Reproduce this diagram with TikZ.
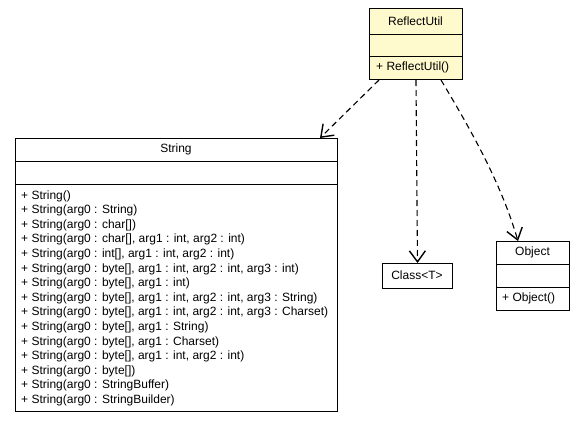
\documentclass[tikz,border=0pt]{standalone}
\usepackage{fontspec}
\setmainfont{Liberation Sans}
\usetikzlibrary{arrows.meta}
\definecolor{lemon}{HTML}{FFFACD}
\begin{document}
\begin{tikzpicture}[x=1pt,y=-1pt,
  box/.style={draw,line width=1pt,inner sep=0pt,anchor=north west},
  lbl/.style={font=\fontsize{12}{14.6}\selectfont,inner sep=0pt},
  sep/.style={line width=1pt},
  dep/.style={line width=1.1pt,dash pattern=on 6pt off 4pt,
    -{Straight Barb[length=11pt,width=16pt,line width=1.4pt]}}]
\fill[white] (0,0) rectangle (584,424);
\useasboundingbox (0,0) rectangle (584,424);
% ReflectUtil
\node[box,fill=lemon,minimum width=93pt,minimum height=71pt] (ru) at (369,8) {};
\draw[sep] (369,34) -- (462,34);
\draw[sep] (369,56) -- (462,56);
\node[lbl] (runame) at (415.5,21) {ReflectUtil};
\node[lbl,anchor=west] (rum) at (376,67.5) {+ ReflectUtil()};
% String
\node[box,minimum width=322pt,minimum height=273pt] (str) at (15,138) {};
\draw[sep] (15,161) -- (337,161);
\draw[sep] (15,184) -- (337,184);
\node[lbl] (strname) at (176,149.5) {String};
\foreach [count=\i] \t in {
  {+ String()},
  {+ String(arg0 : String)},
  {+ String(arg0 : char[])},
  {+ String(arg0 : char[], arg1 : int, arg2 : int)},
  {+ String(arg0 : int[], arg1 : int, arg2 : int)},
  {+ String(arg0 : byte[], arg1 : int, arg2 : int, arg3 : int)},
  {+ String(arg0 : byte[], arg1 : int)},
  {+ String(arg0 : byte[], arg1 : int, arg2 : int, arg3 : String)},
  {+ String(arg0 : byte[], arg1 : int, arg2 : int, arg3 : Charset)},
  {+ String(arg0 : byte[], arg1 : String)},
  {+ String(arg0 : byte[], arg1 : Charset)},
  {+ String(arg0 : byte[], arg1 : int, arg2 : int)},
  {+ String(arg0 : byte[])},
  {+ String(arg0 : StringBuffer)},
  {+ String(arg0 : StringBuilder)}}
  \node[lbl,anchor=west] (m\i) at (21,{196+14.6*(\i-1)}) {\t};
% Class<T>
\node[box,minimum width=70pt,minimum height=25pt] (cls) at (382,263) {};
\node[lbl] (clsname) at (417,275.5) {Class<T>};
% Object
\node[box,minimum width=73pt,minimum height=69pt] (obj) at (496,241) {};
\draw[sep] (496,264) -- (569,264);
\draw[sep] (496,287) -- (569,287);
\node[lbl] (objname) at (532.5,252.5) {Object};
\node[lbl,anchor=west] (objm) at (502,298.5) {+ Object()};
% dependencies
\draw[dep] ([xshift=10pt]ru.south west) -- ([xshift=305pt]str.north west);
\draw[dep] ([xshift=47pt]ru.south west) -- (cls.north);
\draw[dep] ([xshift=72pt]ru.south west) .. controls (474,135) and (501.5,185) .. ([xshift=22pt]obj.north west);
\end{tikzpicture}
\end{document}
